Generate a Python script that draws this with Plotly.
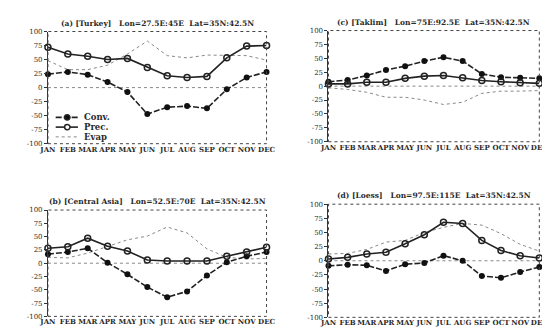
import plotly.graph_objects as go

months = ["JAN", "FEB", "MAR", "APR", "MAY", "JUN", "JUL", "AUG", "SEP", "OCT", "NOV", "DEC"]
ytick_vals = [-100, -75, -50, -25, 0, 25, 50, 75, 100]
ytick_text = ["-100", "-75", "-50", "-25", "0", "25", "50", "75", "100"]
legend_names = ["Conv.", "Prec.", "Evap"]

turkey_conv = [24, 28, 23, 10, -8, -47, -35, -33, -37, -3, 18, 28]
turkey_prec = [72, 60, 56, 50, 52, 36, 21, 18, 20, 53, 74, 75]
turkey_evap = [48, 32, 32, 40, 60, 83, 57, 53, 58, 57, 57, 49]

taklim_conv = [8, 11, 19, 29, 36, 45, 52, 45, 22, 16, 15, 14]
taklim_prec = [4, 4, 7, 7, 14, 18, 19, 15, 10, 8, 6, 5]
taklim_evap = [-3, -6, -11, -20, -20, -25, -33, -29, -13, -9, -9, -8]

central_conv = [17, 21, 28, 1, -21, -45, -64, -53, -23, 2, 13, 21]
central_prec = [28, 31, 47, 32, 23, 6, 4, 4, 4, 13, 21, 30]
central_evap = [11, 10, 19, 31, 44, 51, 68, 57, 27, 11, 8, 9]

loess_conv = [-9, -7, -8, -18, -6, -4, 9, 0, -27, -30, -20, -11]
loess_prec = [3, 6, 12, 15, 30, 46, 68, 66, 36, 18, 9, 5]
loess_evap = [12, 13, 20, 33, 36, 50, 59, 66, 63, 48, 29, 17]

titles = [
    "(a) [Turkey]   Lon=27.5E:45E  Lat=35N:42.5N",
    "(c) [Taklim]   Lon=75E:92.5E  Lat=35N:42.5N",
    "(b) [Central Asia]   Lon=52.5E:70E  Lat=35N:42.5N",
    "(d) [Loess]   Lon=97.5E:115E  Lat=35N:42.5N",
]

panels = [
    (turkey_conv, turkey_prec, turkey_evap),
    (taklim_conv, taklim_prec, taklim_evap),
    (central_conv, central_prec, central_evap),
    (loess_conv, loess_prec, loess_evap),
]

W, H = 550, 327
# pixel boxes: left, right, top, bottom
boxes = [
    (32, 258, 20, 135),
    (322, 540, 19, 133),
    (32, 258, 203, 312),
    (322, 540, 197, 313),
]

FONT = "DejaVu Serif"
TXT = "#2a2a2a"
CONV_LINE = dict(color="#222", width=1.6, dash="6px,2px")
PREC_LINE = dict(color="#222", width=1.6)
EVAP_LINE = dict(color="#888", width=1, dash="dot")

fig = go.Figure()
for i, ((conv, prec, evap), (l, r, t, b)) in enumerate(zip(panels, boxes)):
    n = "" if i == 0 else str(i + 1)
    xa, ya = "x" + n, "y" + n
    fig.add_trace(go.Scatter(x=months, y=evap, mode="lines", name="Evap",
                             line=EVAP_LINE, xaxis=xa, yaxis=ya, showlegend=False))
    fig.add_trace(go.Scatter(x=months, y=conv, mode="lines+markers", name="Conv.",
                             line=CONV_LINE,
                             marker=dict(symbol="circle", size=6, color="#111"),
                             xaxis=xa, yaxis=ya, showlegend=False, cliponaxis=False))
    fig.add_trace(go.Scatter(x=months, y=prec, mode="lines+markers", name="Prec.",
                             line=PREC_LINE,
                             marker=dict(symbol="circle-open", size=6, color="#222", line=dict(width=1.5)),
                             xaxis=xa, yaxis=ya, showlegend=False, cliponaxis=False))
    xdom = [l / W, r / W]
    ydom = [1 - b / H, 1 - t / H]
    fig.update_layout(**{
        ("xaxis" + n): dict(domain=xdom, anchor=ya, type="category", range=[0, 11],
                            showgrid=False, zeroline=False, showline=False, ticks="",
                            tickfont=dict(family=FONT, size=7, color=TXT, weight="bold"), tickangle=0,
                            fixedrange=True),
        ("yaxis" + n): dict(domain=ydom, anchor=xa, range=[-100, 100],
                            tickvals=ytick_vals, ticktext=ytick_text,
                            showgrid=False, zeroline=False, showline=True, linecolor="#333",
                            linewidth=1, ticks="outside", ticklen=3, tickcolor="#333",
                            tickfont=dict(family=FONT, size=7, color=TXT)),
    })
    fig.add_shape(type="rect", xref=xa + " domain", yref=ya + " domain", x0=0, x1=1, y0=0, y1=1,
                  line=dict(color="#444", width=1, dash="dot"), layer="above")
    fig.add_shape(type="line", xref=xa + " domain", yref=ya, x0=0, x1=1, y0=0, y1=0,
                  line=dict(color="#888", width=1, dash="dot"), layer="below")
    fig.add_annotation(text="<b>" + titles[i] + "</b>", xref="paper", yref="paper",
                       x=(l + r) / 2 / W, y=1 - (t - 2) / H, xanchor="center", yanchor="bottom",
                       showarrow=False, font=dict(family=FONT, size=7.5, color=TXT))

# compact legend inside panel (a), drawn as key samples + text
leg_rows = [108, 118, 128]
styles = [CONV_LINE, PREC_LINE, EVAP_LINE]
for name, yy, st in zip(legend_names, leg_rows, styles):
    yp = 1 - yy / H
    fig.add_shape(type="line", xref="paper", yref="paper", x0=40 / W, x1=63 / W, y0=yp, y1=yp,
                  line=st)
    fig.add_annotation(text="<b>" + name + "</b>", xref="paper", yref="paper", x=67 / W, y=yp,
                       xanchor="left", yanchor="middle", showarrow=False,
                       font=dict(family=FONT, size=8.5, color=TXT))
# key markers
r = 2.8
for yy, fill in [(leg_rows[0], "#111"), (leg_rows[1], "white")]:
    fig.add_shape(type="circle", xref="paper", yref="paper",
                  x0=(52 - r) / W, x1=(52 + r) / W, y0=1 - (yy + r) / H, y1=1 - (yy - r) / H,
                  line=dict(color="#222", width=1.5), fillcolor=fill)

fig.update_layout(
    width=W, height=H, margin=dict(l=0, r=0, t=0, b=0),
    paper_bgcolor="white", plot_bgcolor="white",
    showlegend=False,
)

fig.write_html("out.html")
